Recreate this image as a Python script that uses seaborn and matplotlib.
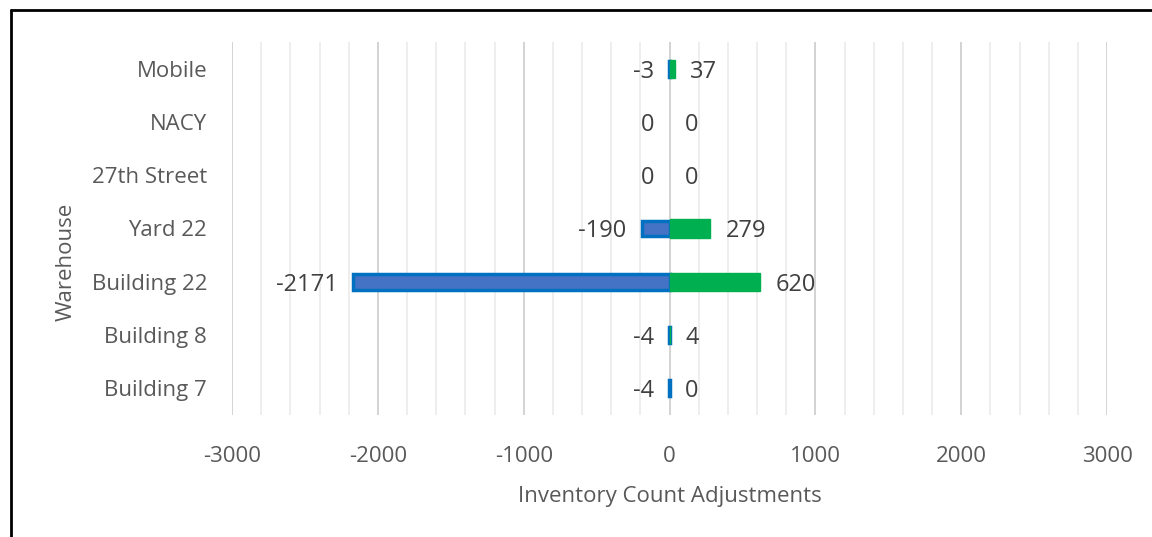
import numpy as np
import pandas as pd
import matplotlib
matplotlib.use("Agg")
import matplotlib.pyplot as plt
import seaborn as sns
from matplotlib.ticker import MultipleLocator
from matplotlib.lines import Line2D

warehouses = ["Mobile", "NACY", "27th Street", "Yard 22", "Building 22", "Building 8", "Building 7"]
negative_adj = [-3, 0, 0, -190, -2171, -4, -4]
positive_adj = [37, 0, 0, 279, 620, 4, 0]

sns.set_theme(style="white")
plt.rcParams['font.family'] = ['Open Sans', 'DejaVu Sans']
plt.rcParams['axes.unicode_minus'] = False

df = pd.DataFrame({'warehouse': warehouses, 'neg': negative_adj, 'pos': positive_adj})

fig = plt.figure(figsize=(11.52, 5.37), dpi=100)
ax = fig.add_axes([0.2014, 0.2272, 0.7596, 0.6946])

sns.barplot(data=df, x='neg', y='warehouse', order=warehouses, orient='h',
            color='#4472C4', edgecolor='#0070C0', linewidth=2.5, width=0.3, ax=ax,
            saturation=1)
sns.barplot(data=df, x='pos', y='warehouse', order=warehouses, orient='h',
            color='#00B050', edgecolor='#00B050', linewidth=1, width=0.34, ax=ax,
            saturation=1)
# hide outlines of zero-length bars
for patch in ax.patches:
    if abs(patch.get_width()) < 1e-9:
        patch.set_visible(False)

ax.set_xlim(-3000, 3000)
ax.set_ylim(6.5, -0.5)
ax.xaxis.set_major_locator(MultipleLocator(1000))
ax.xaxis.set_minor_locator(MultipleLocator(200))
ax.grid(axis='x', which='major', color='#D0D0D0', linewidth=1.3)
ax.grid(axis='x', which='minor', color='#EDEDED', linewidth=1.3)
ax.set_axisbelow(True)
for s in ax.spines.values():
    s.set_visible(False)
ax.tick_params(axis='both', which='both', length=0, labelsize=16, colors='#595959')
ax.tick_params(axis='y', pad=18)
ax.tick_params(axis='x', pad=22)

ax.set_xlabel('Inventory Count Adjustments', fontsize=16, color='#595959', labelpad=14)
ax.set_ylabel('Warehouse', fontsize=16, color='#595959')
ax.yaxis.set_label_coords(-0.178, 0.41)

for i, (n, p) in enumerate(zip(negative_adj, positive_adj)):
    ax.annotate(str(n), xy=(n, i), xytext=(-11, 0), textcoords='offset points',
                ha='right', va='center_baseline', fontsize=17, color='#404040')
    ax.annotate(str(p), xy=(p, i), xytext=(11, 0), textcoords='offset points',
                ha='left', va='center_baseline', fontsize=17, color='#404040')

# outer frame (left and top edges visible)
fig.add_artist(Line2D([0.0095, 0.0095], [0, 0.981], color='black', linewidth=2, transform=fig.transFigure))
fig.add_artist(Line2D([0.0095, 1.0], [0.981, 0.981], color='black', linewidth=2, transform=fig.transFigure))

fig.savefig('out.png', dpi=100)
